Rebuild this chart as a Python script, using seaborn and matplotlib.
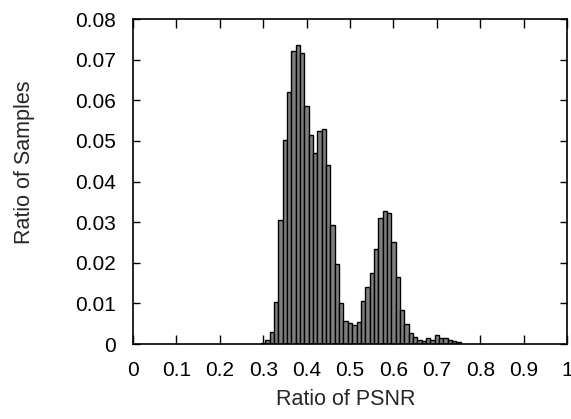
import numpy as np
import pandas as pd
import matplotlib
matplotlib.use("Agg")
import matplotlib.pyplot as plt
import seaborn as sns
from matplotlib.ticker import FuncFormatter

# PSNR ratio bin centres (bin width 0.01) and the share of samples in each bin
psnr_ratio = [0.30, 0.31, 0.32, 0.33, 0.34, 0.35, 0.36, 0.37, 0.38, 0.39,
              0.40, 0.41, 0.42, 0.43, 0.44, 0.45, 0.46, 0.47, 0.48, 0.49,
              0.50, 0.51, 0.52, 0.53, 0.54, 0.55, 0.56, 0.57, 0.58, 0.59,
              0.60, 0.61, 0.62, 0.63, 0.64, 0.65, 0.66, 0.67, 0.68, 0.69,
              0.70, 0.71, 0.72, 0.73, 0.74, 0.75]
sample_ratio = [0.0003, 0.0010, 0.0030, 0.0104, 0.0305, 0.0503, 0.0620, 0.0722, 0.0735, 0.0716,
                0.0586, 0.0515, 0.0470, 0.0524, 0.0530, 0.0440, 0.0292, 0.0198, 0.0100, 0.0056,
                0.0051, 0.0046, 0.0055, 0.0106, 0.0141, 0.0176, 0.0233, 0.0309, 0.0327, 0.0323,
                0.0251, 0.0165, 0.0083, 0.0049, 0.0026, 0.0017, 0.0010, 0.0007, 0.0014, 0.0011,
                0.0022, 0.0014, 0.0014, 0.0010, 0.0007, 0.0004]

x_ticks = [0, 0.1, 0.2, 0.3, 0.4, 0.5, 0.6, 0.7, 0.8, 0.9, 1.0]
y_ticks = [0, 0.01, 0.02, 0.03, 0.04, 0.05, 0.06, 0.07, 0.08]

df = pd.DataFrame({"psnr": psnr_ratio, "ratio": sample_ratio})

sns.set_style("ticks")
plt.rcParams["font.family"] = ["Liberation Sans", "DejaVu Sans"]

fig = plt.figure(figsize=(5.71, 4.19), dpi=100)
ax = fig.add_axes([133 / 571, 1 - 344 / 419, 434 / 571, 325 / 419])

width = 0.01
sns.histplot(data=df, x="psnr", weights="ratio", binwidth=width,
             binrange=(psnr_ratio[0] - width / 2, psnr_ratio[-1] + width / 2),
             stat="count", color="#7f7f7f", edgecolor="black", linewidth=1.0,
             alpha=1.0, ax=ax)

ax.set_xlim(0, 1)
ax.set_ylim(0, 0.08)
ax.set_xticks(x_ticks)
ax.set_yticks(y_ticks)
ax.xaxis.set_major_formatter(FuncFormatter(lambda v, p: f"{v:g}"))
ax.yaxis.set_major_formatter(FuncFormatter(lambda v, p: f"{v:g}"))
ax.tick_params(axis="both", direction="in", width=1, colors="black",
               labelsize=15, top=True, right=True)
ax.tick_params(axis="x", length=6.5, pad=12)
ax.tick_params(axis="y", length=5, pad=12)
for s in ax.spines.values():
    s.set_visible(True)
    s.set_linewidth(1.2)
    s.set_color("black")

ax.set_xlabel("Ratio of PSNR", fontsize=15.5)
ax.set_ylabel("Ratio of Samples", fontsize=15.5)
ax.xaxis.set_label_coords(0.49, -0.138)
ax.yaxis.set_label_coords(-0.225, 0.56)

fig.savefig("out.png", dpi=100)
